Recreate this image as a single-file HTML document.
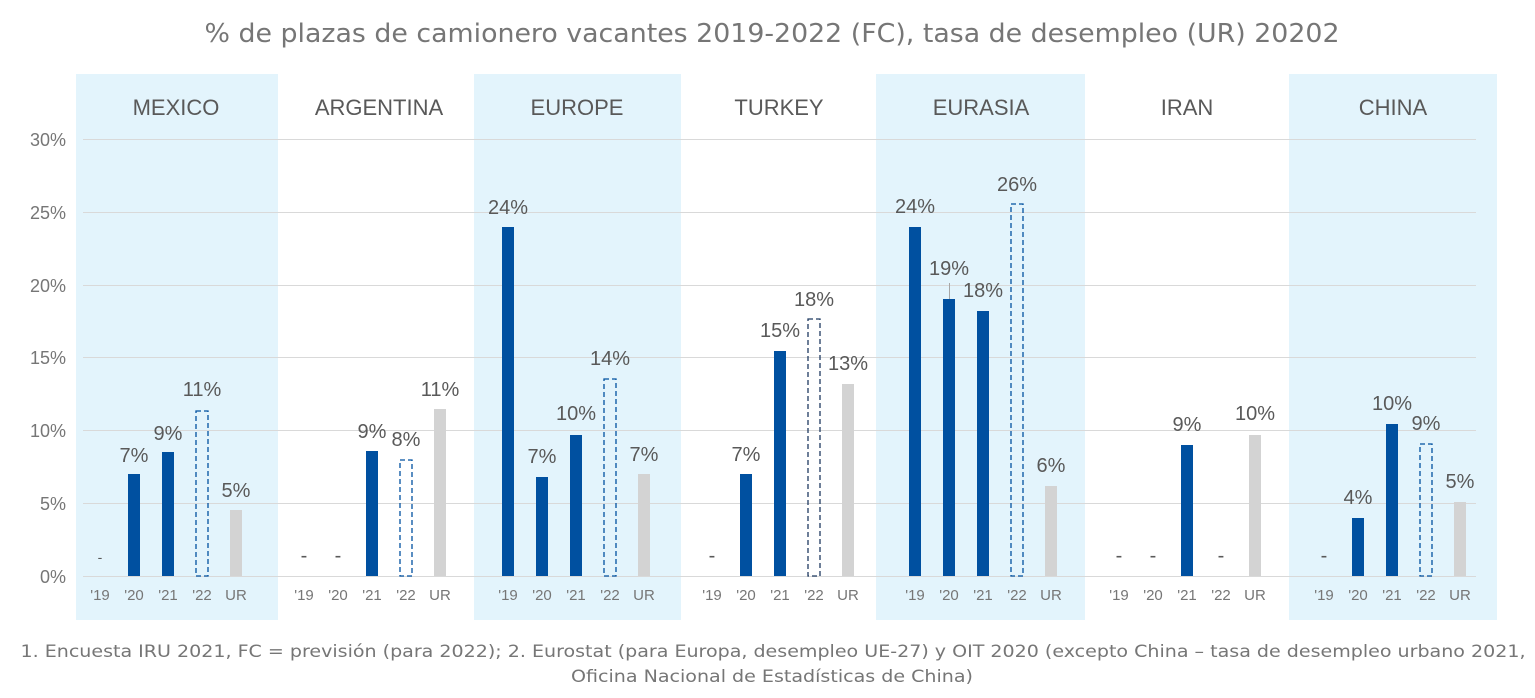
<!DOCTYPE html>
<html><head><meta charset="utf-8"><style>
html,body{margin:0;padding:0;background:#fff;}
svg{display:block;}
text{font-family:"Liberation Sans",sans-serif;fill:#595959;}
.l{font-size:20px;text-anchor:middle;}
.t{font-size:15px;text-anchor:middle;fill:#767676;}
.c{font-size:22px;text-anchor:middle;}
.y{font-size:18px;text-anchor:end;fill:#767676;}
.f{font-family:"DejaVu Sans","Liberation Sans",sans-serif;font-size:17px;text-anchor:middle;fill:#767676;}
.b{fill:#0050A0;}
.u{fill:#D3D3D3;}
.d{fill:none;stroke:#0050A0;stroke-width:1.3;stroke-dasharray:5,3;}
</style></head><body>
<svg width="1535" height="698" viewBox="0 0 1535 698" xmlns="http://www.w3.org/2000/svg">
<rect x="76" y="74" width="202" height="546" fill="#E3F4FC"/>
<rect x="474" y="74" width="207" height="546" fill="#E3F4FC"/>
<rect x="876" y="74" width="209" height="546" fill="#E3F4FC"/>
<rect x="1289" y="74" width="208" height="546" fill="#E3F4FC"/>
<g stroke="#D9D9D9" stroke-width="1">
<line x1="83" y1="139.5" x2="1476" y2="139.5"/>
<line x1="83" y1="212.5" x2="1476" y2="212.5"/>
<line x1="83" y1="285.5" x2="1476" y2="285.5"/>
<line x1="83" y1="357.5" x2="1476" y2="357.5"/>
<line x1="83" y1="430.5" x2="1476" y2="430.5"/>
<line x1="83" y1="503.5" x2="1476" y2="503.5"/>
<line x1="83" y1="576.5" x2="1476" y2="576.5"/>
</g>
<text x="772" y="42" textLength="1135" lengthAdjust="spacingAndGlyphs" style="font-family:'DejaVu Sans','Liberation Sans',sans-serif;font-size:26px;text-anchor:middle;fill:#767676">% de plazas de camionero vacantes 2019-2022 (FC), tasa de desempleo (UR) 20202</text>
<text class="y" x="66" y="146">30%</text>
<text class="y" x="66" y="219">25%</text>
<text class="y" x="66" y="292">20%</text>
<text class="y" x="66" y="364">15%</text>
<text class="y" x="66" y="437">10%</text>
<text class="y" x="66" y="510">5%</text>
<text class="y" x="66" y="583">0%</text>
<text class="c" x="176" y="115">MEXICO</text>
<text class="c" x="379" y="115">ARGENTINA</text>
<text class="c" x="577" y="115">EUROPE</text>
<text class="c" x="779" y="115">TURKEY</text>
<text class="c" x="981" y="115">EURASIA</text>
<text class="c" x="1187" y="115">IRAN</text>
<text class="c" x="1393" y="115">CHINA</text>
<!-- Mexico -->
<text class="l" x="100" y="562" style="font-size:14px">-</text>
<rect class="b" x="128" y="474" width="12" height="102"/><text class="l" x="134" y="462">7%</text>
<rect class="b" x="162" y="452" width="12" height="124"/><text class="l" x="168" y="440">9%</text>
<rect class="d" x="196" y="411" width="12" height="165"/><text class="l" x="202" y="396">11%</text>
<rect class="u" x="230" y="510" width="12" height="66"/><text class="l" x="236" y="497">5%</text>
<!-- Argentina -->
<text class="l" x="304" y="562">-</text><text class="l" x="338" y="562">-</text>
<rect class="b" x="366" y="451" width="12" height="125"/><text class="l" x="372" y="438">9%</text>
<rect class="d" x="400" y="460" width="12" height="116"/><text class="l" x="406" y="446">8%</text>
<rect class="u" x="434" y="409" width="12" height="167"/><text class="l" x="440" y="396">11%</text>
<!-- Europe -->
<rect class="b" x="502" y="227" width="12" height="349"/><text class="l" x="508" y="214">24%</text>
<rect class="b" x="536" y="477" width="12" height="99"/><text class="l" x="542" y="463">7%</text>
<rect class="b" x="570" y="435" width="12" height="141"/><text class="l" x="576" y="420">10%</text>
<rect class="d" x="604" y="379" width="12" height="197"/><text class="l" x="610" y="365">14%</text>
<rect class="u" x="638" y="474" width="12" height="102"/><text class="l" x="644" y="461">7%</text>
<!-- Turkey -->
<text class="l" x="712" y="562">-</text>
<rect class="b" x="740" y="474" width="12" height="102"/><text class="l" x="746" y="461">7%</text>
<rect class="b" x="774" y="351" width="12" height="225"/><text class="l" x="780" y="337">15%</text>
<rect class="d" x="808" y="319" width="12" height="257" style="stroke:#1F3A60"/><text class="l" x="814" y="306">18%</text>
<rect class="u" x="842" y="384" width="12" height="192"/><text class="l" x="848" y="370">13%</text>
<!-- Eurasia -->
<rect class="b" x="909" y="227" width="12" height="349"/><text class="l" x="915" y="213">24%</text>
<line x1="949.5" y1="283" x2="949.5" y2="299" stroke="#A6A6A6"/>
<rect class="b" x="943" y="299" width="12" height="277"/><text class="l" x="949" y="275">19%</text>
<rect class="b" x="977" y="311" width="12" height="265"/><text class="l" x="983" y="297">18%</text>
<rect class="d" x="1011" y="204" width="12" height="372"/><text class="l" x="1017" y="191">26%</text>
<rect class="u" x="1045" y="486" width="12" height="90"/><text class="l" x="1051" y="472">6%</text>
<!-- Iran -->
<text class="l" x="1119" y="562">-</text><text class="l" x="1153" y="562">-</text><text class="l" x="1221" y="562">-</text>
<rect class="b" x="1181" y="445" width="12" height="131"/><text class="l" x="1187" y="431">9%</text>
<rect class="u" x="1249" y="435" width="12" height="141"/><text class="l" x="1255" y="420">10%</text>
<!-- China -->
<text class="l" x="1324" y="562">-</text>
<rect class="b" x="1352" y="518" width="12" height="58"/><text class="l" x="1358" y="504">4%</text>
<rect class="b" x="1386" y="424" width="12" height="152"/><text class="l" x="1392" y="410">10%</text>
<rect class="d" x="1420" y="444" width="12" height="132"/><text class="l" x="1426" y="430">9%</text>
<rect class="u" x="1454" y="502" width="12" height="74"/><text class="l" x="1460" y="488">5%</text>
<!-- ticks -->
<g>
<text class="t" x="100" y="600">'19</text><text class="t" x="134" y="600">'20</text><text class="t" x="168" y="600">'21</text><text class="t" x="202" y="600">'22</text><text class="t" x="236" y="600">UR</text>
<text class="t" x="304" y="600">'19</text><text class="t" x="338" y="600">'20</text><text class="t" x="372" y="600">'21</text><text class="t" x="406" y="600">'22</text><text class="t" x="440" y="600">UR</text>
<text class="t" x="508" y="600">'19</text><text class="t" x="542" y="600">'20</text><text class="t" x="576" y="600">'21</text><text class="t" x="610" y="600">'22</text><text class="t" x="644" y="600">UR</text>
<text class="t" x="712" y="600">'19</text><text class="t" x="746" y="600">'20</text><text class="t" x="780" y="600">'21</text><text class="t" x="814" y="600">'22</text><text class="t" x="848" y="600">UR</text>
<text class="t" x="915" y="600">'19</text><text class="t" x="949" y="600">'20</text><text class="t" x="983" y="600">'21</text><text class="t" x="1017" y="600">'22</text><text class="t" x="1051" y="600">UR</text>
<text class="t" x="1119" y="600">'19</text><text class="t" x="1153" y="600">'20</text><text class="t" x="1187" y="600">'21</text><text class="t" x="1221" y="600">'22</text><text class="t" x="1255" y="600">UR</text>
<text class="t" x="1324" y="600">'19</text><text class="t" x="1358" y="600">'20</text><text class="t" x="1392" y="600">'21</text><text class="t" x="1426" y="600">'22</text><text class="t" x="1460" y="600">UR</text>
</g>
<text class="f" x="773" y="657" textLength="1505" lengthAdjust="spacingAndGlyphs">1. Encuesta IRU 2021, FC = previsión (para 2022); 2. Eurostat (para Europa, desempleo UE-27) y OIT 2020 (excepto China – tasa de desempleo urbano 2021,</text>
<text class="f" x="772" y="682" textLength="402" lengthAdjust="spacingAndGlyphs">Oficina Nacional de Estadísticas de China)</text>
</svg>
</body></html>
